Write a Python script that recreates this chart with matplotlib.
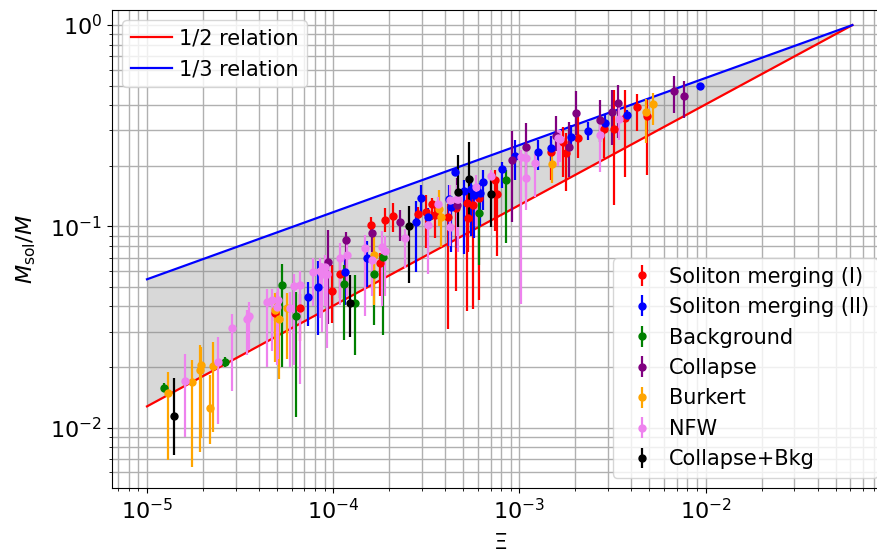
import numpy as np
import matplotlib
matplotlib.use('Agg')
import matplotlib.pyplot as plt

# relation lines (end points and exponents)
line_x = [1e-5, 0.0615]
x_norm = 0.0615
half_exp = 1 / 2
third_exp = 1 / 3

# each series: x, y, lower end of error bar, upper end of error bar
red_x = [4.9e-5, 6.6e-5, 9.9e-5, 1.09e-4, 1.6e-4, 1.79e-4, 1.89e-4, 2.1e-4, 2.84e-4, 3.16e-4,
         3.4e-4, 3.53e-4, 4.14e-4, 4.57e-4, 5.25e-4, 5.3e-4, 5.66e-4, 6.1e-4, 7.43e-4, 7.59e-4,
         1.475e-3, 1.72e-3, 1.77e-3, 2.07e-3, 2.86e-3, 3.24e-3, 3.68e-3, 4.26e-3, 4.86e-3]
red_y = [0.037, 0.0394, 0.048, 0.058, 0.102, 0.066, 0.107, 0.113, 0.115, 0.118,
         0.1285, 0.114, 0.1115, 0.123, 0.130, 0.110, 0.128, 0.138, 0.169, 0.145,
         0.233, 0.264, 0.231, 0.276, 0.305, 0.305, 0.344, 0.394, 0.352]
red_lo = [0.034, 0.027, 0.033, 0.044, 0.092, 0.045, 0.094, 0.094, 0.103, 0.078,
          0.107, 0.088, 0.031, 0.048, 0.038, 0.075, 0.039, 0.043, 0.095, 0.071,
          0.17, 0.176, 0.149, 0.218, 0.218, 0.128, 0.176, 0.296, 0.180]
red_hi = [0.040, 0.046, 0.064, 0.068, 0.111, 0.074, 0.123, 0.131, 0.125, 0.143,
          0.138, 0.131, 0.129, 0.14, 0.152, 0.125, 0.15, 0.16, 0.19, 0.17,
          0.27, 0.31, 0.29, 0.35, 0.344, 0.478, 0.478, 0.457, 0.425]

blue_x = [7.37e-5, 8.34e-5, 1.16e-4, 1.52e-4, 2.79e-4, 2.97e-4, 3.23e-4, 4.18e-4, 4.3e-4, 4.53e-4,
          5.06e-4, 5.5e-4, 5.68e-4, 6.17e-4, 6.38e-4, 8.07e-4, 9.5e-4, 1.265e-3, 1.475e-3, 1.89e-3,
          2.34e-3, 2.9e-3, 3.79e-3, 9.31e-3]
blue_y = [0.0447, 0.0501, 0.0596, 0.0693, 0.1047, 0.1378, 0.1115, 0.137, 0.125, 0.187,
          0.149, 0.154, 0.143, 0.146, 0.167, 0.193, 0.223, 0.233, 0.246, 0.277,
          0.298, 0.325, 0.356, 0.501]
blue_lo = [0.032, 0.029, 0.0406, 0.05, 0.0595, 0.115, 0.10, 0.08, 0.075, 0.18,
           0.073, 0.09, 0.088, 0.10, 0.12, 0.155, 0.17, 0.19, 0.21, 0.244,
           0.27, 0.29, 0.33, 0.49]
blue_hi = [0.053, 0.067, 0.072, 0.085, 0.133, 0.16, 0.123, 0.16, 0.14, 0.195,
           0.17, 0.175, 0.16, 0.165, 0.19, 0.21, 0.27, 0.27, 0.28, 0.318,
           0.33, 0.36, 0.38, 0.51]

green_x = [1.23e-5, 2.62e-5, 5.3e-5, 6.3e-5, 1.15e-4, 1.31e-4, 1.65e-4, 1.86e-4, 6.1e-4, 8.51e-4]
green_y = [0.0158, 0.0212, 0.0514, 0.036, 0.0516, 0.0417, 0.0577, 0.0707, 0.116, 0.169]
green_lo = [0.0151, 0.0199, 0.020, 0.0113, 0.0271, 0.0229, 0.0323, 0.0288, 0.0645, 0.0823]
green_hi = [0.0166, 0.0225, 0.0647, 0.0473, 0.0642, 0.0573, 0.0693, 0.0763, 0.138, 0.191]

purple_x = [9.35e-5, 1.175e-4, 1.62e-4, 2.29e-4, 4.65e-4, 9.12e-4, 1.09e-3, 1.58e-3, 1.84e-3, 2.02e-3,
            2.72e-3, 3.15e-3, 3.38e-3, 6.76e-3, 7.71e-3]
purple_y = [0.0667, 0.0855, 0.0923, 0.1047, 0.127, 0.214, 0.249, 0.282, 0.249, 0.365,
            0.338, 0.369, 0.412, 0.468, 0.442]
purple_lo = [0.0329, 0.0531, 0.075, 0.085, 0.078, 0.1055, 0.173, 0.236, 0.176, 0.284,
             0.264, 0.254, 0.274, 0.365, 0.344]
purple_hi = [0.096, 0.0936, 0.105, 0.12, 0.173, 0.296, 0.325, 0.352, 0.331, 0.468,
             0.425, 0.478, 0.505, 0.556, 0.525]

orange_x = [1.3e-5, 1.74e-5, 1.93e-5, 1.95e-5, 2.18e-5, 2.25e-5, 4.87e-5, 5.13e-5, 5.64e-5, 1.65e-4,
            3.7e-4, 3.8e-4, 1.49e-3, 4.78e-3, 5.24e-3]
orange_y = [0.0148, 0.0169, 0.0193, 0.0204, 0.0125, 0.0202, 0.0384, 0.0348, 0.0394, 0.0719,
            0.1225, 0.1115, 0.205, 0.372, 0.405]
orange_lo = [0.00687, 0.00637, 0.00757, 0.00884, 0.00832, 0.0095, 0.0213, 0.0175, 0.022, 0.0406,
             0.10, 0.079, 0.164, 0.26, 0.32]
orange_hi = [0.0188, 0.0216, 0.0257, 0.0252, 0.0182, 0.0267, 0.0467, 0.0393, 0.0467, 0.0886,
             0.151, 0.125, 0.244, 0.43, 0.46]

violet_x = [1.6e-5, 2.42e-5, 2.87e-5, 3.46e-5, 3.55e-5, 4.43e-5, 4.68e-5, 4.98e-5, 5.08e-5, 5.86e-5,
            6.17e-5, 6.65e-5, 7.83e-5, 8.51e-5, 9.06e-5, 8.69e-5, 9.31e-5, 1.09e-4, 1.19e-4, 1.49e-4,
            1.62e-4, 1.83e-4, 1.9e-4, 2.44e-4, 3.23e-4, 3.67e-4, 4.22e-4, 4.7e-4, 4.26e-4, 4.63e-4,
            5.86e-4, 7.0e-4, 1.02e-3, 1.08e-3, 1.08e-3, 1.22e-3, 1.62e-3, 1.65e-3, 2.7e-3, 3.45e-3]
violet_y = [0.017, 0.0212, 0.0313, 0.0346, 0.036, 0.0422, 0.043, 0.0398, 0.043, 0.0394,
            0.0504, 0.0514, 0.0596, 0.060, 0.0631, 0.0583, 0.0583, 0.0693, 0.0724, 0.0783,
            0.068, 0.0791, 0.0755, 0.0871, 0.102, 0.1285, 0.135, 0.137, 0.0997, 0.137,
            0.157, 0.177, 0.222, 0.218, 0.173, 0.206, 0.274, 0.272, 0.284, 0.342]
violet_lo = [0.009, 0.01047, 0.0152, 0.0229, 0.0243, 0.020, 0.024, 0.0204, 0.022, 0.020,
             0.0204, 0.0165, 0.040, 0.035, 0.040, 0.030, 0.025, 0.0406, 0.045, 0.036,
             0.045, 0.040, 0.045, 0.062, 0.058, 0.11, 0.08, 0.075, 0.08, 0.09,
             0.10, 0.12, 0.041, 0.14, 0.12, 0.14, 0.20, 0.21, 0.187, 0.27]
violet_hi = [0.0233, 0.0282, 0.0365, 0.0384, 0.0422, 0.0491, 0.049, 0.047, 0.0492, 0.047,
             0.058, 0.060, 0.070, 0.070, 0.072, 0.066, 0.065, 0.0822, 0.085, 0.0903,
             0.075, 0.095, 0.090, 0.097, 0.12, 0.14, 0.16, 0.16, 0.115, 0.16,
             0.18, 0.19, 0.24, 0.25, 0.20, 0.23, 0.30, 0.30, 0.344, 0.40]

black_x = [1.4e-5, 1.23e-4, 2.56e-4, 4.71e-4, 5.38e-4, 7.03e-4]
black_y = [0.01143, 0.0417, 0.1007, 0.1486, 0.1714, 0.145]
black_lo = [0.00728, 0.0282, 0.0525, 0.0997, 0.1114, 0.0997]
black_hi = [0.01766, 0.0573, 0.126, 0.226, 0.261, 0.175]

series = [
    ('Soliton merging (I)', 'red', red_x, red_y, red_lo, red_hi),
    ('Soliton merging (II)', 'blue', blue_x, blue_y, blue_lo, blue_hi),
    ('Background', 'green', green_x, green_y, green_lo, green_hi),
    ('Collapse', 'purple', purple_x, purple_y, purple_lo, purple_hi),
    ('Burkert', 'orange', orange_x, orange_y, orange_lo, orange_hi),
    ('NFW', 'violet', violet_x, violet_y, violet_lo, violet_hi),
    ('Collapse+Bkg', 'black', black_x, black_y, black_lo, black_hi),
]

fig = plt.figure(figsize=(8.77, 5.49), dpi=100)
# axes runs past the right edge of the picture, as in the original
ax = fig.add_axes([0.1277, 0.1111, 0.8848, 0.8707])

xl = np.logspace(np.log10(line_x[0]), np.log10(line_x[1]), 200)
y_half = (xl / x_norm) ** half_exp
y_third = (xl / x_norm) ** third_exp
l1, = ax.plot(xl, y_half, color='red', lw=1.6, label='1/2 relation')
l2, = ax.plot(xl, y_third, color='blue', lw=1.6, label='1/3 relation')
ax.fill_between(xl, y_half, y_third, color='gray', alpha=0.3, lw=0)

handles = []
for name, col, x, y, lo, hi in series:
    y = np.array(y)
    err = [y - np.array(lo), np.array(hi) - y]
    h = ax.errorbar(x, y, yerr=err, fmt='o', color=col, ms=5, elinewidth=1.6, capsize=0, label=name)
    handles.append(h)

ax.set_xscale('log')
ax.set_yscale('log')
ax.set_xlim(10 ** -5.188, 10 ** -1.02)
ax.set_ylim(10 ** -2.30, 10 ** 0.075)
ax.grid(True, which='both', color='#b0b0b0', lw=1.0)
ax.set_axisbelow(True)
ax.tick_params(labelsize=16)
ax.set_xlabel(r'$\Xi$', fontsize=16, labelpad=7)
ax.set_ylabel(r'$M_{\rm sol}/M$', fontsize=16, labelpad=9)

leg1 = ax.legend(handles=[l1, l2], loc='upper left', fontsize=15, handletextpad=0.3)
ax.add_artist(leg1)
ax.legend(handles=handles, loc='lower right', fontsize=15, handletextpad=0.3)

fig.savefig('out.png', dpi=100)
